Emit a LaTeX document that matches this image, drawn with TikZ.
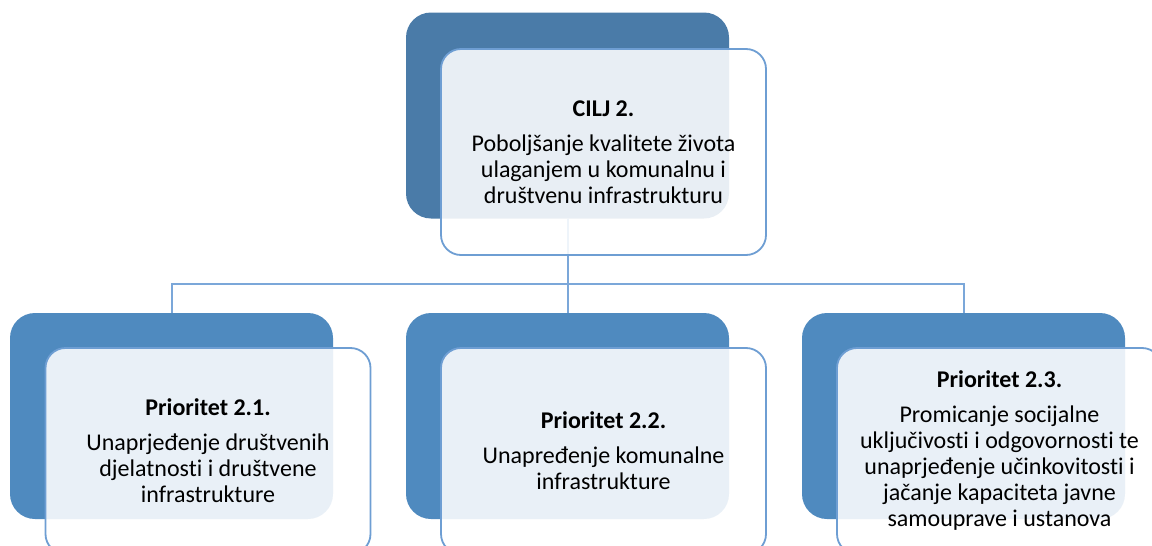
\documentclass[tikz,border=0pt]{standalone}
\usepackage{fontspec}
\setmainfont{Carlito}[Ligatures=NoCommon]
\definecolor{topdark}{HTML}{4A7BA8}
\definecolor{botdark}{HTML}{4F8ABF}
\definecolor{frontline}{HTML}{6E9ED3}
\definecolor{conn}{HTML}{7BA7D9}
\begin{document}
\begin{tikzpicture}[x=1pt,y=-1pt,
  darkbox/.style={rectangle, rounded corners=25pt, inner sep=0pt, minimum width=323pt, minimum height=206pt, draw=none},
  frontbox/.style={rectangle, rounded corners=20pt, inner sep=0pt, minimum width=325pt, minimum height=206pt,
     draw=frontline, line width=1.8pt, fill=white, fill opacity=0.88, text opacity=1,
     align=center, text=black, font=\fontsize{24}{26}\selectfont},
  connline/.style={draw=conn, line width=2pt}]
\useasboundingbox (0,0) rectangle (1152,546);
\clip (0,0) rectangle (1152,546);
% dark back boxes
\node[darkbox, fill=topdark] (td) at (567.5,115.5) {};
\node[darkbox, fill=botdark] (d1) at (171.5,416) {};
\node[darkbox, fill=botdark] (d2) at (567.5,416) {};
\node[darkbox, fill=botdark] (d3) at (963.5,416) {};
% connectors
\coordinate (bus) at (567.5,284);
\draw[connline] (td.south) -- (bus);
\draw[connline] (d1.north) |- (bus);
\draw[connline] (d3.north) |- (bus);
\draw[connline] (bus) -- (d2.north);
% front boxes
\node[frontbox] (tf) at (603.5,152) {\textbf{CILJ 2.}\\[9pt]Poboljšanje kvalitete života\\ulaganjem u komunalnu i\\društvenu infrastrukturu};
\node[frontbox] (f1) at (208,451) {\textbf{Prioritet 2.1.}\\[9pt]Unaprjeđenje društvenih\\djelatnosti i društvene\\infrastrukture};
\node[frontbox] (f2) at (603.5,451) {\textbf{Prioritet 2.2.}\\[9pt]Unapređenje komunalne\\infrastrukture};
\node[frontbox] (f3) at (999.5,451) {\textbf{Prioritet 2.3.}\\[9pt]Promicanje socijalne\\uključivosti i odgovornosti te\\unaprjeđenje učinkovitosti i\\jačanje kapaciteta javne\\samouprave i ustanova};
\end{tikzpicture}
\end{document}
